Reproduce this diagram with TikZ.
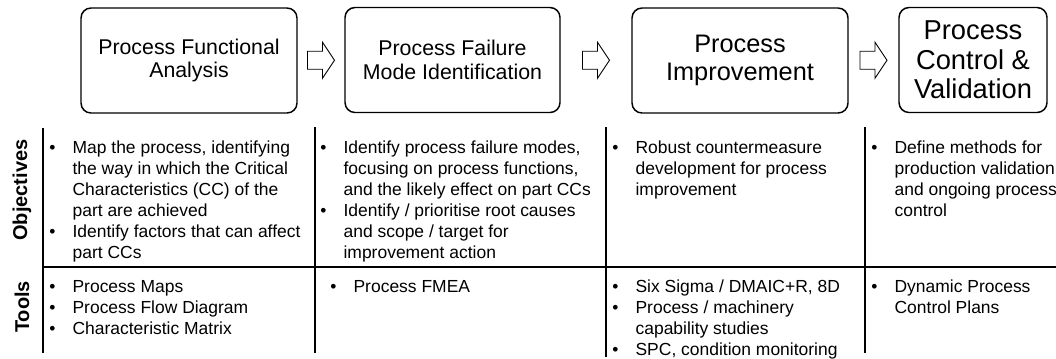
\documentclass[tikz,border=0pt]{standalone}
\usepackage{fontspec}
\setmainfont{Liberation Sans}
\usetikzlibrary{calc}
\newcommand\bul{\makebox[17.5pt][l]{•}}
\newcommand\ind{\makebox[17.5pt][l]{}}
\newcommand\blockarrow[1]{\draw[blockarr] ($(#1)+(-13.5,-9)$) -- ++(15,0) -- ++(0,-9) -- ++(12,18) -- ++(-12,18) -- ++(0,-9) -- ++(-15,0) -- cycle;}
\begin{document}
\begin{tikzpicture}[x=0.75pt,y=-0.75pt,
 stage/.style={draw, rounded corners=7.5pt, line width=1.1pt, minimum height=78.75pt, inner sep=0pt, align=center},
 blockarr/.style={draw, line width=0.7pt, fill=white, line join=miter},
 gridline/.style={line width=1.5pt},
 cell/.style={anchor=north west, inner sep=0pt, align=left, font=\fontsize{13.1}{15.75}\selectfont},
 rowlabel/.style={rotate=90, font=\bfseries\fontsize{15}{17}\selectfont, inner sep=0pt}]
\useasboundingbox (0,0) rectangle (1056,358);

% stage boxes
\node[stage, minimum width=162pt, font=\fontsize{16}{17.5}\selectfont] (b1) at (189,60.5) {Process Functional\\Analysis};
\node[stage, minimum width=161.25pt, font=\fontsize{16}{17.5}\selectfont] (b2) at (452.5,60) {Process Failure\\Mode Identification};
\node[stage, minimum width=162pt, font=\fontsize{19}{21}\selectfont] (b3) at (740,60.5) {Process\\Improvement};
\node[stage, minimum width=111pt, font=\fontsize{20.5}{22}\selectfont] (b4) at (973,60) {Process\\Control \&\\Validation};

% block arrows between stages
\coordinate (m1) at ($(b1.east)!0.5!(b2.west)$);
\coordinate (m2) at ($(b2.east)!0.5!(b3.west)$);
\coordinate (m3) at ($(b3.east)!0.5!(b4.west)$);
\blockarrow{m1}
\blockarrow{m2}
\blockarrow{m3}

% grid
\draw[gridline] (43,128) -- (43,353);
\draw[gridline] (315,127) -- (315,353);
\draw[gridline] (606,127) -- (606,357);
\draw[gridline] (865,127) -- (865,353);
\draw[gridline] (43,267) -- (1056,267);

% row labels
\node[rowlabel] (lobj) at (22,190) {Objectives};
\node[rowlabel] (ltools) at (22,307) {Tools};

% objectives
\node[cell] (o1) at (49,141) {\bul Map the process, identifying\\
\ind the way in which the Critical\\
\ind Characteristics (CC) of the\\
\ind part are achieved\\
\bul Identify factors that can affect\\
\ind part CCs};
\node[cell] (o2) at (320,141) {\bul Identify process failure modes,\\
\ind focusing on process functions,\\
\ind and the likely effect on part CCs\\
\bul Identify / prioritise root causes\\
\ind and scope / target for\\
\ind improvement action};
\node[cell] (o3) at (612,141) {\bul Robust countermeasure\\
\ind development for process\\
\ind improvement};
\node[cell] (o4) at (871,141) {\bul Define methods for\\
\ind production validation\\
\ind and ongoing process\\
\ind control};

% tools
\node[cell] (t1) at (49,280) {\bul Process Maps\\
\bul Process Flow Diagram\\
\bul Characteristic Matrix};
\node[cell] (t2) at (330,280) {\bul Process FMEA};
\node[cell] (t3) at (612,280) {\bul Six Sigma / DMAIC+R, 8D\\
\bul Process / machinery\\
\ind capability studies\\
\bul SPC, condition monitoring};
\node[cell] (t4) at (871,280) {\bul Dynamic Process\\
\ind Control Plans};
\end{tikzpicture}
\end{document}
